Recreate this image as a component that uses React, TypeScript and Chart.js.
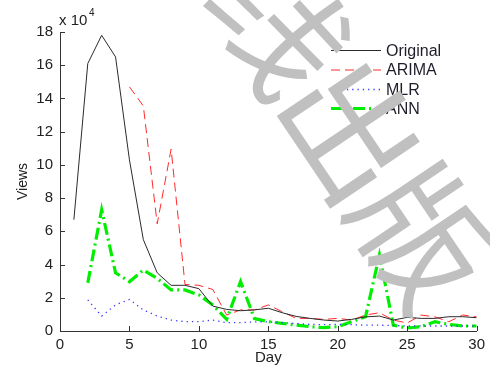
import React, { useEffect, useRef } from "react";
import { Chart, registerables } from "chart.js";
Chart.register(...registerables);

// Views in units of 10^4
const days = [1, 2, 3, 4, 5, 6, 7, 8, 9, 10, 11, 12, 13, 14, 15, 16, 17, 18, 19, 20, 21, 22, 23, 24, 25, 26, 27, 28, 29, 30];
const original = [6.7, 16.1, 17.8, 16.5, 10.3, 5.5, 3.5, 2.75, 2.75, 2.55, 1.5, 1.3, 1.22, 1.27, 1.37, 1.1, 0.88, 0.76, 0.66, 0.6, 0.7, 0.85, 0.9, 0.66, 0.82, 0.76, 0.76, 0.86, 0.86, 0.8];
const arima = [null, null, null, null, 14.7, 13.55, 6.45, 10.95, 2.8, 2.75, 2.5, 0.96, 1.27, 1.27, 1.57, 1.16, 0.76, 0.76, 0.7, 0.76, 0.66, 0.96, 1.1, 0.66, 0.48, 0.96, 0.85, 0.56, 0.96, 0.85];
const mlr = [null, 1.87, 0.9, 1.57, 1.9, 1.27, 0.9, 0.66, 0.56, 0.56, 0.66, 0.5, 0.5, 0.55, 0.55, 0.5, 0.45, 0.4, 0.38, 0.4, 0.38, 0.35, 0.35, 0.33, 0.3, 0.3, 0.3, 0.3, 0.3, 0.3];
const ann = [null, 2.9, 7.3, 3.5, 2.97, 3.67, 3.17, 2.47, 2.47, 2.17, 1.57, 0.7, 2.97, 0.75, 0.56, 0.46, 0.36, 0.26, 0.2, 0.26, 0.56, 0.86, 4.58, 0.35, 0.18, 0.26, 0.56, 0.4, 0.3, 0.3];
const seriesNames = ["Original", "ARIMA", "MLR", "ANN"];
const xTicks = [0, 5, 10, 15, 20, 25, 30];
const yTicks = [0, 2, 4, 6, 8, 10, 12, 14, 16, 18];
const watermark = "线出版";

const FONT = '"Liberation Sans", Arial, Helvetica, sans-serif';

function toPoints(vals: (number | null)[]) {
  const pts: { x: number; y: number }[] = [];
  vals.forEach((v, i) => {
    if (v !== null) pts.push({ x: days[i], y: v * 10000 });
  });
  return pts;
}

const styles = [
  { color: "#2b2b2b", width: 1, dash: [] as number[] },
  { color: "#ff2a2a", width: 1, dash: [9, 5] },
  { color: "#3b3bff", width: 1.3, dash: [1.3, 4] },
  { color: "#00ee00", width: 3.2, dash: [12, 4, 2, 4] },
];

const decor = {
  id: "decor",
  afterDraw(chart: any) {
    const ctx = chart.ctx;
    const xs = chart.scales.x;
    const ys = chart.scales.y;
    const a = chart.chartArea;
    ctx.save();
    // inward ticks
    ctx.strokeStyle = "#333";
    ctx.lineWidth = 1;
    ctx.setLineDash([]);
    ctx.beginPath();
    xTicks.forEach((t) => {
      const px = Math.round(xs.getPixelForValue(t)) + 0.5;
      ctx.moveTo(px, a.bottom);
      ctx.lineTo(px, a.bottom - 5);
    });
    yTicks.forEach((t) => {
      const py = Math.round(ys.getPixelForValue(t * 10000)) + 0.5;
      ctx.moveTo(a.left, py);
      ctx.lineTo(a.left + 5, py);
    });
    ctx.stroke();

    // axis titles
    ctx.fillStyle = "#222";
    ctx.font = `15px ${FONT}`;
    ctx.textAlign = "center";
    ctx.textBaseline = "alphabetic";
    ctx.fillText("Day", (a.left + a.right) / 2, 362);
    ctx.save();
    ctx.translate(27, (a.top + a.bottom) / 2);
    ctx.rotate(-Math.PI / 2);
    ctx.font = `14px ${FONT}`;
    ctx.fillText("Views", 0, 0);
    ctx.restore();

    // exponent
    ctx.textAlign = "left";
    ctx.font = `15px ${FONT}`;
    ctx.fillText("x 10", 59, 25);
    ctx.font = `10px ${FONT}`;
    ctx.fillText("4", 89, 16);

    // legend
    const rows = [50.5, 70, 89.5, 108.5];
    seriesNames.forEach((name, i) => {
      const s = styles[i];
      ctx.strokeStyle = s.color;
      ctx.lineWidth = s.width;
      ctx.setLineDash(s.dash);
      ctx.beginPath();
      ctx.moveTo(331, rows[i]);
      ctx.lineTo(381, rows[i]);
      ctx.stroke();
      ctx.setLineDash([]);
      ctx.fillStyle = "#1e1e2a";
      ctx.font = `16px ${FONT}`;
      ctx.textBaseline = "middle";
      ctx.fillText(name, 386, rows[i] + 1);
    });

    // watermark
    ctx.fillStyle = "rgb(192,192,192)";
    ctx.font = `135px "Noto Sans CJK SC"`;
    ctx.textAlign = "center";
    ctx.textBaseline = "middle";
    ctx.translate(280, 24);
    ctx.rotate((56 * Math.PI) / 180);
    const chars = Array.from(watermark);
    chars.forEach((c, i) => {
      ctx.fillText(c, i * 128, 0);
    });
    ctx.restore();
  },
};

export default function App() {
  const ref = useRef<HTMLCanvasElement | null>(null);
  useEffect(() => {
    if (!ref.current) return;
    const all = [original, arima, mlr, ann];
    const chart = new Chart(ref.current, {
      type: "line",
      data: {
        datasets: all.map((vals, i) => ({
          label: seriesNames[i],
          data: toPoints(vals),
          borderColor: styles[i].color,
          borderWidth: styles[i].width,
          borderDash: styles[i].dash,
          pointRadius: 0,
          fill: false,
          tension: 0,
        })),
      },
      options: {
        responsive: false,
        animation: false,
        layout: { padding: { top: 32, right: 13, left: 0, bottom: 0 } },
        plugins: { legend: { display: false }, tooltip: { enabled: false } },
        scales: {
          x: {
            type: "linear",
            min: 0,
            max: 30,
            afterFit: (s: any) => {
              s.height = 34;
            },
            afterBuildTicks: (s: any) => {
              s.ticks = xTicks.map((v) => ({ value: v }));
            },
            grid: { display: false, drawTicks: false },
            border: { display: true, color: "#333", width: 1 },
            ticks: {
              padding: 5,
              color: "#222",
              font: { family: FONT, size: 15 },
              maxRotation: 0,
              callback: (v: any) => String(v),
            },
          },
          y: {
            type: "linear",
            min: 0,
            max: 180000,
            afterFit: (s: any) => {
              s.width = 60;
            },
            afterBuildTicks: (s: any) => {
              s.ticks = yTicks.map((v) => ({ value: v * 10000 }));
            },
            grid: { display: false, drawTicks: false },
            border: { display: true, color: "#333", width: 1 },
            ticks: {
              padding: 7,
              color: "#222",
              font: { family: FONT, size: 15 },
              callback: (v: any) => String(Math.round(Number(v) / 10000)),
            },
          },
        },
      },
      plugins: [decor],
    });
    return () => chart.destroy();
  }, []);
  return (
    <div style={{ position: "absolute", left: 0, top: 0, width: 490, height: 365, background: "#fff" }}>
      <canvas ref={ref} width={490} height={365} style={{ width: 490, height: 365, display: "block" }} />
    </div>
  );
}
